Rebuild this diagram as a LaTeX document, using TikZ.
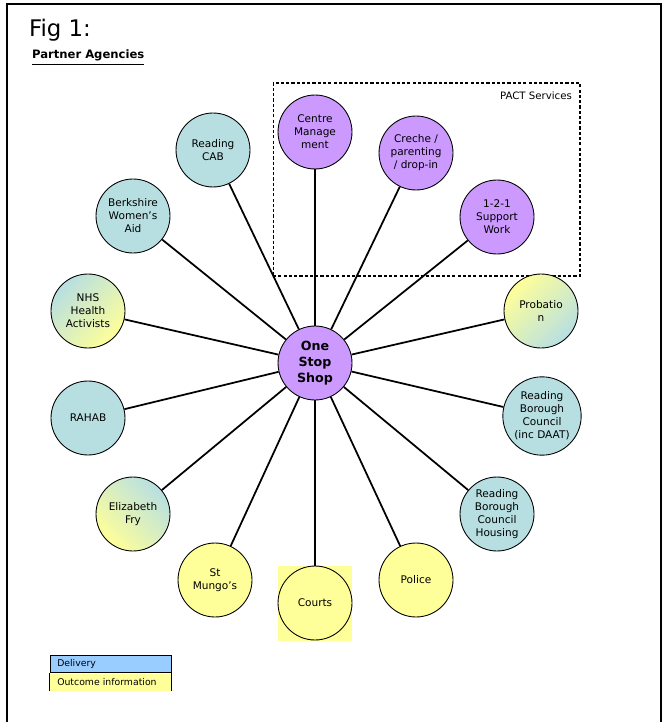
\documentclass[tikz,border=0pt]{standalone}
\usepackage{fontspec}
\setmainfont{DejaVu Sans}
\usetikzlibrary{positioning}
\definecolor{pactpurple}{RGB}{204,153,255}
\definecolor{agencyblue}{RGB}{183,223,226}
\definecolor{lemon}{RGB}{255,255,153}
\definecolor{deliveryblue}{RGB}{153,204,255}

\begin{document}
\begin{tikzpicture}[x=0.02cm, y=-0.02cm,
every node/.style = {font=\fontsize{6}{7.4}\selectfont, align=center, inner sep=1pt},
     agency/.style = {circle, draw, line width=0.5pt, minimum size=1.48cm},
   bluecirc/.style = {agency, fill=agencyblue},
   pactcirc/.style = {agency, fill=pactpurple},
 yellowcirc/.style = {agency, fill=lemon},
      spoke/.style = {line width=1pt},
     legbox/.style = {rectangle, minimum width=2.42cm, minimum height=0.35cm, inner xsep=4pt,
                      text width=2.13cm, align=left, font=\fontsize{5.3}{6.3}\selectfont}
                    ]
\useasboundingbox (0,0) rectangle (663,722);
\draw[line width=1.1pt] (7,730) -- (7,4) -- (661,4) -- (661,730);
\node (fig)   [anchor=base west, font=\fontsize{13}{15}\selectfont] at (27,37) {Fig 1:};
\node (title) [anchor=base west, font=\fontsize{6.6}{8}\selectfont\bfseries] at (30,59) {\underline{Partner Agencies}};
% PACT services group
\node (pactbox) [draw, dash pattern=on 1.8pt off 1.2pt, line width=0.6pt,
                 minimum width=6.14cm, minimum height=3.86cm] at (426.5,179.5) {};
\node (pactlbl) [anchor=east, font=\fontsize{5.8}{7}\selectfont] at (574,96) {PACT Services};
% centre
\node (hub) [agency, fill=pactpurple, font=\fontsize{7.2}{9}\selectfont\bfseries] at (315,363) {One\\Stop\\Shop};
% agencies
\node (centre)  [pactcirc] at (315,132) {Centre\\Manage\\ment};
\node (creche)  [pactcirc] at (416,153) {Creche /\\parenting\\/ drop-in};
\node (support) [pactcirc] at (497,217) {1-2-1\\Support\\Work};
\node (probation) [agency, top color=lemon, bottom color=agencyblue, shading angle=45] at (541,311) {Probatio\\n};
\node (rbcdaat) [bluecirc] at (542,416) {Reading\\Borough\\Council\\(inc DAAT)};
\node (rbchouse)[bluecirc] at (497,514) {Reading\\Borough\\Council\\Housing};
\node (police)  [yellowcirc] at (416,580) {Police};
\node (courtsbg)[rectangle, fill=lemon, minimum width=1.48cm, minimum height=1.5cm] at (315,603) {};
\node (courts)  [yellowcirc] at (315,603) {Courts};
\node (mungo)   [yellowcirc] at (215,580) {St\\Mungo's};
\node (fry)     [agency, top color=agencyblue, bottom color=lemon, shading angle=-45] at (133,514) {Elizabeth\\Fry};
\node (rahab)   [bluecirc] at (88,418) {RAHAB};
\node (nhs)     [agency, top color=agencyblue, bottom color=lemon, shading angle=45] at (88,311) {NHS\\Health\\Activists};
\node (bwa)     [bluecirc] at (133,216) {Berkshire\\Women's\\Aid};
\node (cab)     [bluecirc] at (213,150) {Reading\\CAB};
\draw[spoke] (hub) to (centre);
\draw[spoke] (hub) to (creche);
\draw[spoke] (hub) to (support);
\draw[spoke] (hub) to (probation);
\draw[spoke] (hub) to (rbcdaat);
\draw[spoke] (hub) to (rbchouse);
\draw[spoke] (hub) to (police);
\draw[spoke] (hub) to (courts);
\draw[spoke] (hub) to (mungo);
\draw[spoke] (hub) to (fry);
\draw[spoke] (hub) to (rahab);
\draw[spoke] (hub) to (nhs);
\draw[spoke] (hub) to (bwa);
\draw[spoke] (hub) to (cab);
% legend
\node (delivery) [legbox, draw, line width=0.5pt, fill=deliveryblue] at (110.5,664) {Delivery};
\node (outcome)  [legbox, fill=lemon, below=0pt of delivery] {Outcome information};
\draw[line width=0.5pt] (outcome.south west) -- (outcome.north west)
                        (outcome.north east) -- (outcome.south east);
\end{tikzpicture}
\end{document}
